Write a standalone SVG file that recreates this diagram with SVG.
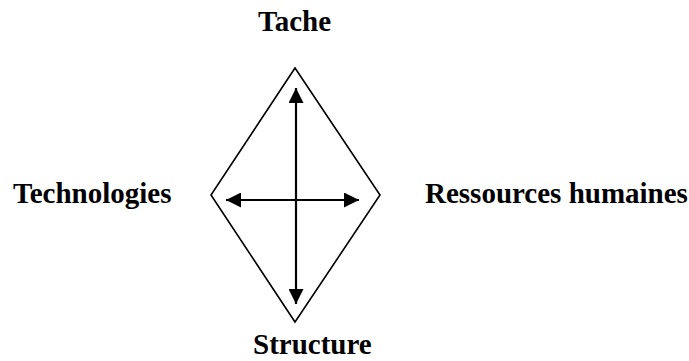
<svg xmlns="http://www.w3.org/2000/svg" width="689" height="361" viewBox="0 0 689 361">
<style>
.lbl{font-family:"Liberation Serif","Times New Roman",serif;font-weight:bold;font-size:29px;fill:#000}
.conn{stroke:#000;stroke-width:2.2;fill:none}
</style>
<defs>
<marker id="ah" viewBox="0 0 15 15" refX="15" refY="7.5" markerWidth="15" markerHeight="15" markerUnits="userSpaceOnUse" orient="auto-start-reverse">
<path d="M0,0 L15,7.5 L0,15 Z" fill="#000"/>
</marker>
</defs>
<rect width="689" height="361" fill="#fff"/>
<g id="diamond"><polygon points="295,68 380,195 295,322 211,195" fill="none" stroke="#000" stroke-width="1.6"/></g>
<g id="tache"><text class="lbl" x="258" y="31">Tache</text></g>
<g id="technologies"><text class="lbl" x="13" y="203">Technologies</text></g>
<g id="ressources"><text class="lbl" x="425" y="203">Ressources humaines</text></g>
<g id="structure"><text class="lbl" x="253" y="354">Structure</text></g>
<g id="connectors">
<line class="conn" x1="296" y1="88" x2="296" y2="304" marker-start="url(#ah)" marker-end="url(#ah)"/>
<line class="conn" x1="226" y1="200" x2="359" y2="200" marker-start="url(#ah)" marker-end="url(#ah)"/>
</g>
</svg>
